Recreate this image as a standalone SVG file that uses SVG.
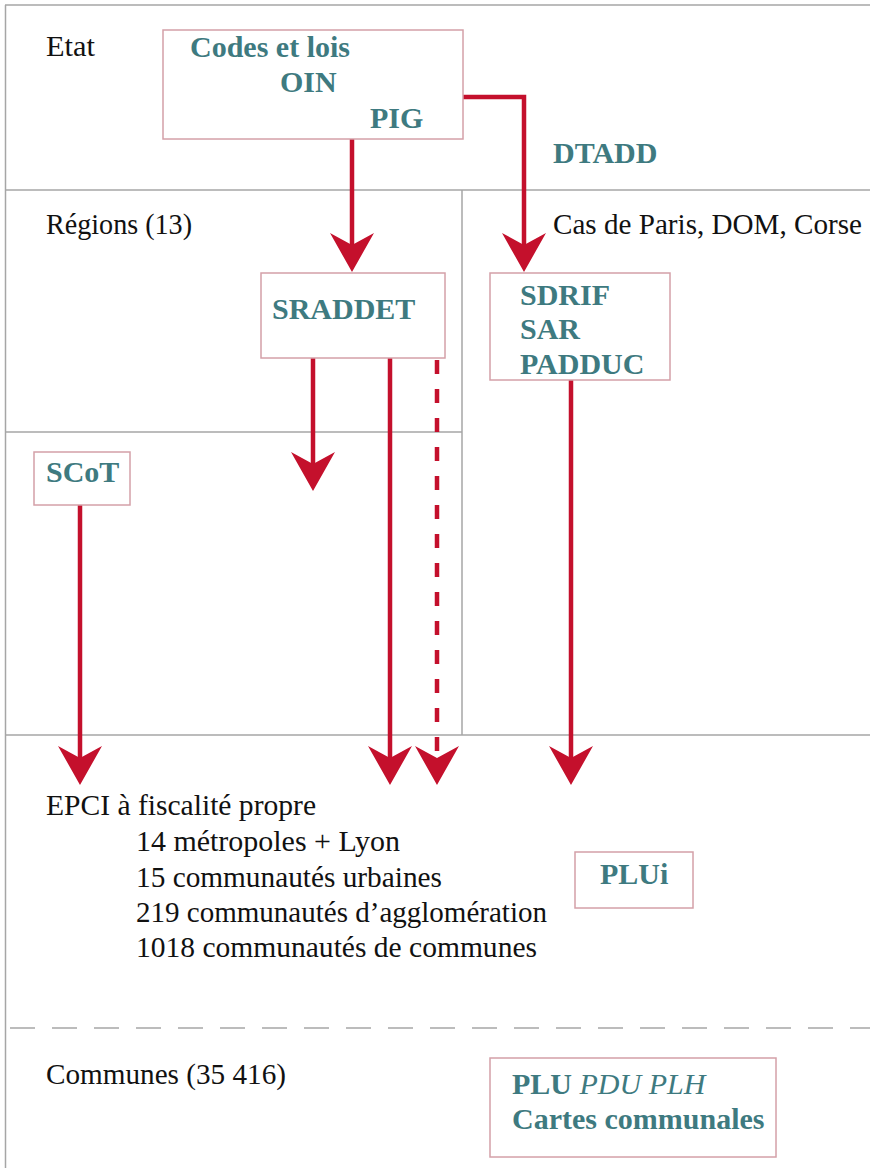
<svg xmlns="http://www.w3.org/2000/svg" width="870" height="1168" viewBox="0 0 870 1168">
<style>
.grid{stroke:#a6a6a6;stroke-width:1.5;fill:none}
.box{fill:#ffffff;stroke:#d4a0a8;stroke-width:1.5}
.lbl{font-size:29px;fill:#111111}
.t{font-size:30px;font-weight:bold;fill:#3e7a80}
.it{font-weight:normal;font-style:italic}
.arr{stroke:#c4102c;stroke-width:4.5;fill:none;marker-end:url(#ah)}
.dash{stroke-dasharray:14 15}
</style>
<defs>
<marker id="ah" markerUnits="userSpaceOnUse" viewBox="-40 -23 41 46" markerWidth="41" markerHeight="46" refX="-27" refY="0" orient="auto">
<path d="M0,0 L-39,-22 L-27,0 L-39,22 Z" fill="#c4102c"/>
</marker>
</defs>
<rect width="870" height="1168" fill="#ffffff"/>
<g id="grid">
<line class="grid" x1="5" y1="5" x2="870" y2="5"/>
<line class="grid" x1="5.5" y1="5" x2="5.5" y2="1168"/>
<line class="grid" x1="5" y1="190" x2="870" y2="190"/>
<line class="grid" x1="462" y1="190" x2="462" y2="735"/>
<line class="grid" x1="5" y1="432" x2="462" y2="432"/>
<line class="grid" x1="5" y1="735" x2="870" y2="735"/>
<line class="grid" x1="10" y1="1028" x2="870" y2="1028" stroke-dasharray="25 17" stroke-width="2" stroke="#bbbbbb"/>
</g>
<g style="font-family:'Liberation Serif',serif">
<g id="labels">
<text class="lbl" x="46" y="56" textLength="49" lengthAdjust="spacingAndGlyphs">Etat</text>
<text class="lbl" x="46" y="234" textLength="146" lengthAdjust="spacingAndGlyphs">Régions (13)</text>
<text class="lbl" x="553" y="234" textLength="309" lengthAdjust="spacingAndGlyphs">Cas de Paris, DOM, Corse</text>
<text class="t" x="553" y="163">DTADD</text>
<text class="lbl" x="46" y="815" textLength="270" lengthAdjust="spacingAndGlyphs">EPCI à fiscalité propre</text>
<text class="lbl" x="136" y="851" textLength="264" lengthAdjust="spacingAndGlyphs">14 métropoles + Lyon</text>
<text class="lbl" x="136" y="887" textLength="306" lengthAdjust="spacingAndGlyphs">15 communautés urbaines</text>
<text class="lbl" x="136" y="922" textLength="411" lengthAdjust="spacingAndGlyphs">219 communautés d’agglomération</text>
<text class="lbl" x="136" y="957" textLength="401" lengthAdjust="spacingAndGlyphs">1018 communautés de communes</text>
<text class="lbl" x="46" y="1084" textLength="240" lengthAdjust="spacingAndGlyphs">Communes (35 416)</text>
</g>
<g id="connectors">
<line class="arr" x1="352" y1="139" x2="352" y2="245"/>
<polyline class="arr" points="463,97 524,97 524,245"/>
<line class="arr" x1="313" y1="358" x2="313" y2="464"/>
<line class="arr" x1="390" y1="358" x2="390" y2="758"/>
<line class="arr dash" x1="437" y1="360" x2="437" y2="758"/>
<line class="arr" x1="80" y1="505" x2="80" y2="758"/>
<line class="arr" x1="571" y1="380" x2="571" y2="758"/>
</g>
<g id="etat">
<rect class="box" x="163" y="30" width="300" height="109"/>
<text class="t" x="190" y="57">Codes et lois</text>
<text class="t" x="280" y="92">OIN</text>
<text class="t" x="370" y="128">PIG</text>
</g>
<g id="sraddet">
<rect class="box" x="261" y="273" width="184" height="85"/>
<text class="t" x="272" y="319">SRADDET</text>
</g>
<g id="sdrif">
<rect class="box" x="490" y="273" width="180" height="107"/>
<text class="t" x="520" y="305">SDRIF</text>
<text class="t" x="520" y="339">SAR</text>
<text class="t" x="520" y="374">PADDUC</text>
</g>
<g id="scot">
<rect class="box" x="34" y="452" width="96" height="53"/>
<text class="t" x="46" y="482">SCoT</text>
</g>
<g id="plui">
<rect class="box" x="575" y="852" width="118" height="56"/>
<text class="t" x="600" y="884">PLUi</text>
</g>
<g id="plu">
<rect class="box" x="490" y="1058" width="286" height="99"/>
<text class="t" x="512" y="1094">PLU <tspan class="it">PDU PLH</tspan></text>
<text class="t" x="512" y="1129">Cartes communales</text>
</g>
</g>
</svg>
